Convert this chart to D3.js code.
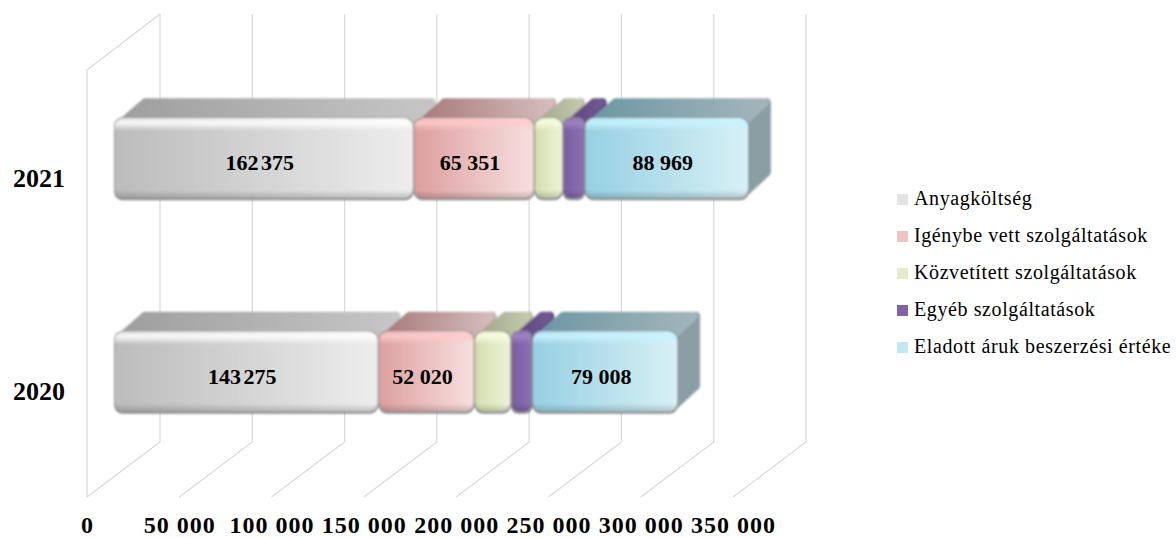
<!DOCTYPE html>
<html>
<head>
<meta charset="utf-8">
<script src="https://cdn.jsdelivr.net/npm/d3@7"></script>
<style>
html, body { margin: 0; padding: 0; background: #fff; }
text { font-family: "Liberation Serif", serif; fill: #000; }
</style>
</head>
<body>
<div class="costChart"></div>
<script>
const years = ["2021", "2020"];
const seriesNames = ["Anyagköltség", "Igénybe vett szolgáltatások", "Közvetített szolgáltatások", "Egyéb szolgáltatások", "Eladott áruk beszerzési értéke"];
const values2021 = [162375, 65351, 15500, 11800, 88969];
const values2020 = [143275, 52020, 19800, 11500, 79008];
const showLabel = [true, true, false, false, true];
const xTicks = [0, 50000, 100000, 150000, 200000, 250000, 300000, 350000];

// front, highlight and shaded colours per series
const frontLeft = ["#bcbcbc", "#dd9f9f", "#d4deaf", "#7a5da0", "#97d0e2"];
const frontRight = ["#ededed", "#f8dfdf", "#eef3da", "#8c70b2", "#d8f0f6"];
const topLeft = ["#9e9e9e", "#a87a7a", "#a3a98a", "#5f4880", "#6c97a4"];
const topRight = ["#c6c6c6", "#d4bcbc", "#c3c8ae", "#6f5790", "#a3b5bb"];
const sideColor = ["#c4c4c4", "#c9aeae", "#b4b89e", "#5f4880", "#8b9ea4"];
const highlight = ["#ffffff", "#ffcaca", "#f8fde0", "#a084c4", "#c8f3ff"];
const legendFill = ["#e4e4e4", "#f0c4c4", "#e2ecc8", "#8064a2", "#c4e8f2"];

const width = 1176, height = 538;
const floorY = 497, wallTop = 70;
const wallDx = 73, wallDy = 55;
const barDx = 27, barDy = -18;
const sideDx = 22, sideDy = 19;

const x = d3.scaleLinear().domain([0, 350000]).range([87, 733]);
const y = d3.scaleBand().domain(years).range([wallTop, floorY]).paddingInner(0.611).paddingOuter(0.3055);

const svg = d3.select(".costChart").append("svg")
    .attr("width", width)
    .attr("height", height)
    .style("display", "block");

const defs = svg.append("defs");
const soft = defs.append("filter").attr("id", "soft").attr("x", "-5%").attr("y", "-5%").attr("width", "110%").attr("height", "110%");
soft.append("feGaussianBlur").attr("stdDeviation", 0.9);

seriesNames.forEach((name, i) => {
    const front = defs.append("linearGradient").attr("id", "front" + i);
    front.append("stop").attr("offset", "0%").attr("stop-color", frontLeft[i]);
    front.append("stop").attr("offset", "100%").attr("stop-color", frontRight[i]);
    const top = defs.append("linearGradient").attr("id", "top" + i);
    top.append("stop").attr("offset", "0%").attr("stop-color", topLeft[i]);
    top.append("stop").attr("offset", "100%").attr("stop-color", topRight[i]);
    // bevel overlay, light along the top and dark along the bottom
    const bevel = defs.append("linearGradient").attr("id", "bevel" + i).attr("x2", 0).attr("y2", 1);
    bevel.append("stop").attr("offset", "0%").attr("stop-color", highlight[i]).attr("stop-opacity", 0.5);
    bevel.append("stop").attr("offset", "6%").attr("stop-color", highlight[i]).attr("stop-opacity", 0.9);
    bevel.append("stop").attr("offset", "16%").attr("stop-color", highlight[i]).attr("stop-opacity", 0);
    bevel.append("stop").attr("offset", "90%").attr("stop-color", "#000").attr("stop-opacity", 0);
    bevel.append("stop").attr("offset", "100%").attr("stop-color", "#000").attr("stop-opacity", 0.18);
});

// walls and grid
const grid = svg.append("g").attr("stroke", "#d9d9d9").attr("stroke-width", 1.2).attr("fill", "none");
grid.selectAll("path").data(xTicks).join("path")
    .attr("d", d => `M${x(d)},${floorY}L${x(d) + wallDx},${floorY - wallDy}L${x(d) + wallDx},14`);
grid.append("path").attr("d", `M${x(0)},${floorY}L${x(0)},${wallTop}L${x(0) + wallDx},14`);

// stacked bars, left to right so each one overlaps the previous side face
const rows = [values2021, values2020];
const barLayer = svg.append("g").attr("filter", "url(#soft)");
const labelData = [];

years.forEach((year, r) => {
    let sum = 0;
    const top = y(year) + barDy;
    const h = y.bandwidth();
    rows[r].forEach((v, i) => {
        const x0 = x(sum) + barDx;
        const x1 = x(sum + v) + barDx;
        sum += v;
        const g = barLayer.append("g");
        const w = x1 - x0;
        const r0 = Math.min(9, w / 3);

        g.append("path")
            .attr("d", `M${x1 - 7},${top + 7}L${x1 + sideDx - 4},${top - sideDy + 4}L${x1 + sideDx - 4},${top + h - sideDy - 9}L${x1 - 7},${top + h - 5}Z`)
            .attr("fill", sideColor[i])
            .attr("stroke", sideColor[i])
            .attr("stroke-width", 8)
            .attr("stroke-linejoin", "round");
        g.append("path")
            .attr("d", `M${x0 + 6},${top + 7}L${x0 + sideDx + 9},${top - sideDy + 4}L${x1 + sideDx - 6},${top - sideDy + 4}L${x1 - 7},${top + 7}Z`)
            .attr("fill", `url(#top${i})`)
            .attr("stroke", `url(#top${i})`)
            .attr("stroke-width", 8)
            .attr("stroke-linejoin", "round");
        g.append("rect")
            .attr("x", x0).attr("y", top).attr("width", w).attr("height", h)
            .attr("rx", r0).attr("ry", r0)
            .attr("fill", "#8f8f8f");
        g.append("rect")
            .attr("x", x0 + 0.8).attr("y", top + 0.8).attr("width", w - 1.6).attr("height", h - 3)
            .attr("rx", r0).attr("ry", r0)
            .attr("fill", `url(#front${i})`);
        g.append("rect")
            .attr("x", x0 + 0.8).attr("y", top + 0.8).attr("width", w - 1.6).attr("height", h - 3)
            .attr("rx", r0).attr("ry", r0)
            .attr("fill", `url(#bevel${i})`);

        if (showLabel[i]) {
            labelData.push({ text: d3.format(",")(v).replace(",", " "), cx: (x0 + x1) / 2 - 4, cy: top + h / 2 + 4, tight: i === 0 });
        }
    });
});

svg.append("g").selectAll("text").data(labelData).join("text")
    .attr("x", d => d.cx)
    .attr("y", d => d.cy)
    .attr("dy", "0.35em")
    .attr("text-anchor", "middle")
    .attr("font-size", "22px")
    .attr("font-weight", "bold")
    .attr("word-spacing", d => d.tight ? "-3px" : "0")
    .text(d => d.text);

// value axis
const xAxis = svg.append("g")
    .attr("transform", `translate(0, 512)`)
    .call(d3.axisBottom(x).tickValues(xTicks).tickSize(0).tickPadding(0)
        .tickFormat(d => d === 0 ? "0" : d3.format(",")(d).replace(",", " ")));
xAxis.select(".domain").remove();
xAxis.selectAll("text")
    .attr("font-family", "Liberation Serif")
    .attr("font-size", "24px")
    .attr("font-weight", "bold")
    .attr("letter-spacing", "1px")
    .attr("dy", 0)
    .attr("y", 20.7);

// category labels
svg.append("g").selectAll("text").data(years).join("text")
    .attr("x", 65)
    .attr("y", d => y(d) + y.bandwidth() / 2 + 1)
    .attr("dy", "0.35em")
    .attr("text-anchor", "end")
    .attr("font-size", "26px")
    .attr("font-weight", "bold")
    .text(d => d);

// legend
const legendRow = d3.scalePoint().domain(seriesNames).range([199, 347]);
const legend = svg.append("g").selectAll("g").data(seriesNames).join("g")
    .attr("transform", d => `translate(897, ${legendRow(d)})`);
legend.append("rect")
    .attr("y", -5).attr("width", 11).attr("height", 11)
    .attr("fill", (d, i) => legendFill[i]);
legend.append("text")
    .attr("x", 17)
    .attr("dy", "0.3em")
    .attr("font-size", "20px")
    .attr("letter-spacing", "0.6px")
    .text(d => d);
</script>
</body>
</html>
